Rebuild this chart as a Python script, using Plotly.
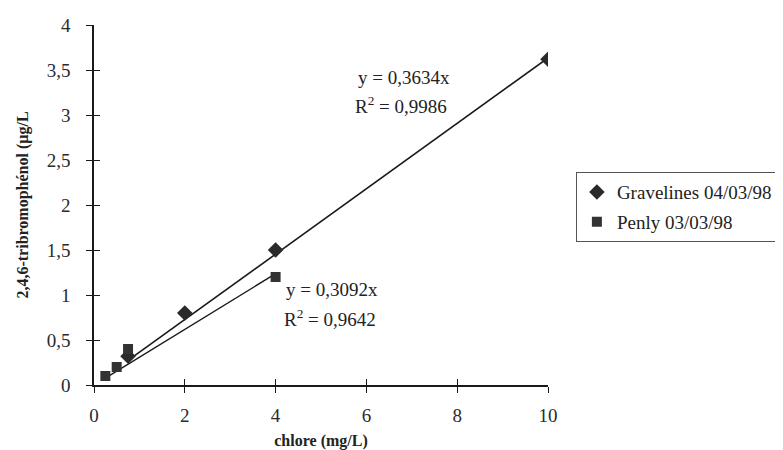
import plotly.graph_objects as go

# ---- data ----
grav_x = [0.75, 2, 4, 10]
grav_y = [0.32, 0.8, 1.5, 3.62]
penly_x = [0.25, 0.5, 0.75, 4]
penly_y = [0.1, 0.2, 0.4, 1.2]
grav_slope = 0.3634
penly_slope = 0.3092
grav_r2 = "0,9986"
penly_r2 = "0,9642"
grav_name = "Gravelines 04/03/98"
penly_name = "Penly 03/03/98"
x_ticks = [0, 2, 4, 6, 8, 10]
y_ticks = [0, 0.5, 1, 1.5, 2, 2.5, 3, 3.5, 4]
y_ticklabels = ["0", "0,5", "1", "1,5", "2", "2,5", "3", "3,5", "4"]

FONT = "Liberation Serif"
INK = "#1a1a1a"

grav_tx = [min(grav_x), max(grav_x)]
grav_ty = [grav_slope * v for v in grav_tx]
penly_tx = [min(penly_x), max(penly_x)]
penly_ty = [penly_slope * v for v in penly_tx]

fig = go.Figure()
fig.add_trace(go.Scatter(x=grav_tx, y=grav_ty, mode="lines",
                         line=dict(color=INK, width=1.6), showlegend=False, hoverinfo="skip"))
fig.add_trace(go.Scatter(x=penly_tx, y=penly_ty, mode="lines",
                         line=dict(color=INK, width=1.4), showlegend=False, hoverinfo="skip"))
fig.add_trace(go.Scatter(x=grav_x, y=grav_y, mode="markers", name=grav_name,
                         legendgroup="g", marker=dict(symbol="diamond", size=12, color="#2a2a2a")))
fig.add_trace(go.Scatter(x=penly_x, y=penly_y, mode="markers", name=penly_name,
                         legendgroup="p", marker=dict(symbol="square", size=10, color="#333333")))
# overlay axes for inside half of crossing ticks
fig.add_trace(go.Scatter(x=[None], y=[None], xaxis="x2", yaxis="y2", showlegend=False, hoverinfo="skip"))

axis_common = dict(showgrid=False, zeroline=False, showline=True, linecolor=INK, linewidth=1.5,
                   tickcolor=INK, tickwidth=1.3, ticklen=6, automargin=False,
                   tickfont=dict(family=FONT, size=19, color="#2a2a2a"))

fig.update_layout(
    width=783, height=450,
    margin=dict(l=86, r=239, t=17, b=73),
    paper_bgcolor="white", plot_bgcolor="white",
    font=dict(family=FONT, color="#222"),
    xaxis=dict(range=[0, 10], tickvals=x_ticks, ticks="outside", ticklabelstandoff=6,
               title=dict(text="<b>chlore (mg/L)</b>", font=dict(family=FONT, size=16), standoff=10),
               **axis_common),
    yaxis=dict(range=[0, 4], tickvals=y_ticks, ticktext=y_ticklabels, ticks="outside",
               ticklabelstandoff=12,
               title=dict(text="<b>2,4,6-tribromophénol (µg/L</b>", font=dict(family=FONT, size=16),
                          standoff=14),
               **axis_common),
    xaxis2=dict(range=[0, 10], overlaying="x", tickvals=x_ticks, ticks="inside",
                showticklabels=False, showgrid=False, zeroline=False, showline=False,
                tickcolor=INK, tickwidth=1.3, ticklen=6, automargin=False),
    yaxis2=dict(range=[0, 4], overlaying="y", tickvals=y_ticks, ticks="inside",
                showticklabels=False, showgrid=False, zeroline=False, showline=False,
                tickcolor=INK, tickwidth=1.3, ticklen=6, automargin=False),
    legend=dict(x=1.061, y=0.592, xanchor="left", yanchor="top",
                bordercolor="#555", borderwidth=1.2, bgcolor="white",
                font=dict(family=FONT, size=19, color="#222"), tracegroupgap=2,
                itemwidth=30),
    showlegend=True,
)

ann_font = dict(family=FONT, size=19, color="#222")
fig.add_annotation(x=5.76, y=3.42, xref="x", yref="y", text="y = 0,3634x", showarrow=False,
                   xanchor="left", yanchor="middle", font=ann_font)
fig.add_annotation(x=5.70, y=3.11, xref="x", yref="y", text="R<sup>2</sup> = " + grav_r2,
                   showarrow=False, xanchor="left", yanchor="middle", font=ann_font)
fig.add_annotation(x=4.19, y=1.056, xref="x", yref="y", text="y = 0,3092x", showarrow=False,
                   xanchor="left", yanchor="middle", font=ann_font)
fig.add_annotation(x=4.15, y=0.744, xref="x", yref="y", text="R<sup>2</sup> = " + penly_r2,
                   showarrow=False, xanchor="left", yanchor="middle", font=ann_font)

fig.write_html("out.html")
